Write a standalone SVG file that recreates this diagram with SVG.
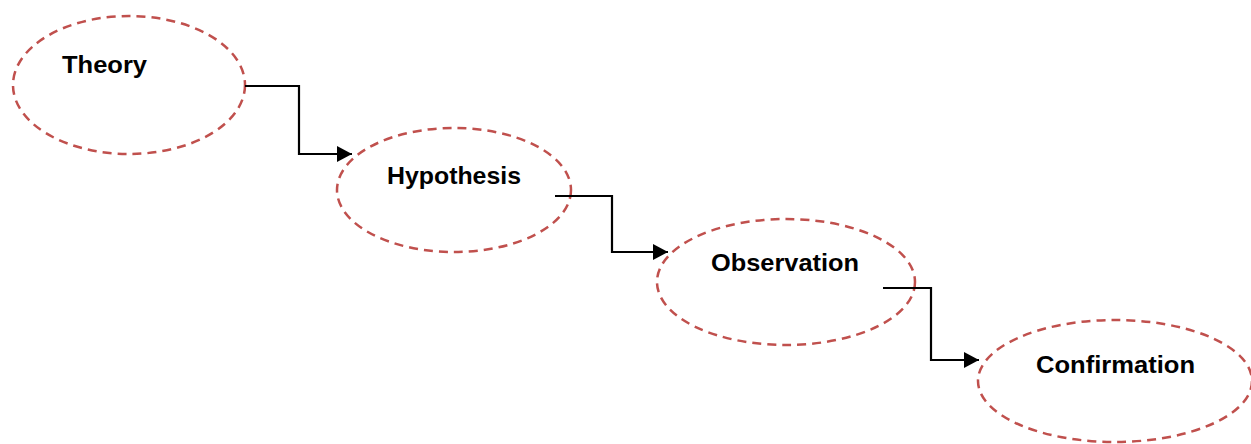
<svg xmlns="http://www.w3.org/2000/svg" width="1251" height="444" viewBox="0 0 1251 444">
<style>
.node{fill:none;stroke:#C0504D;stroke-width:2.5;stroke-dasharray:9 6}
.lbl{font-family:"Liberation Sans",Arial,sans-serif;font-weight:bold;font-size:24px;fill:#000;text-anchor:middle}
.conn{fill:none;stroke:#000;stroke-width:2.2}
</style>
<defs>
<marker id="arr" markerWidth="16" markerHeight="16" refX="15" refY="8" orient="auto" markerUnits="userSpaceOnUse">
<path d="M0,0 L15,8 L0,16 Z" fill="#000"/>
</marker>
</defs>
<rect width="1251" height="444" fill="#fff"/>
<g id="theory"><ellipse class="node" cx="129" cy="85" rx="116" ry="69"/><text class="lbl" x="104.5" y="73" textLength="85" lengthAdjust="spacingAndGlyphs">Theory</text></g>
<g id="hypothesis"><ellipse class="node" cx="454" cy="190" rx="117" ry="62"/><text class="lbl" x="454" y="184" textLength="134" lengthAdjust="spacingAndGlyphs">Hypothesis</text></g>
<g id="observation"><ellipse class="node" cx="786" cy="282" rx="129" ry="63"/><text class="lbl" x="785" y="271" textLength="148" lengthAdjust="spacingAndGlyphs">Observation</text></g>
<g id="confirmation"><ellipse class="node" cx="1115" cy="381" rx="137" ry="61"/><text class="lbl" x="1115.5" y="373" textLength="159" lengthAdjust="spacingAndGlyphs">Confirmation</text></g>
<g id="connectors">
<path class="conn" d="M245,86 H299 V154 H352" marker-end="url(#arr)"/>
<path class="conn" d="M555,196 H612 V252 H668" marker-end="url(#arr)"/>
<path class="conn" d="M883,288 H931 V360 H979" marker-end="url(#arr)"/>
</g>
</svg>
